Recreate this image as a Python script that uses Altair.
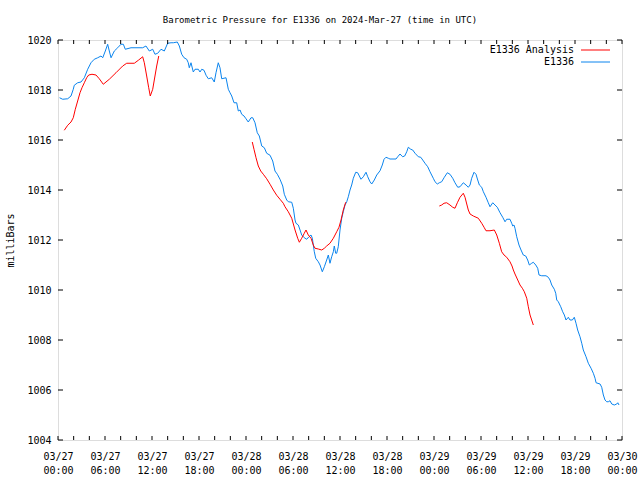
import altair as alt
import pandas as pd

FONT = "DejaVu Sans Mono"
RED = "#ff0000"
BLUE = "#0a84ee"

# ---- Station E1336 observed pressure (hours after 2024-03-27 00:00 UTC, mbar)
blue_hours = [0.2, 0.6, 1.24, 1.66, 1.95, 2.08, 2.51, 2.94, 3.36, 3.79, 4.21, 4.63, 5.07, 5.49, 5.71,
              6.04, 6.34, 6.55, 6.77, 7.19, 7.62, 8.04, 8.34, 8.59, 9.32, 10.81, 11.23, 11.66, 12.09,
              12.38, 12.73, 13.15, 13.57, 14.0, 14.43, 14.72, 15.23, 15.49, 15.79, 16.09, 16.43, 16.63,
              16.76, 16.98, 17.27, 17.49, 17.91, 18.13, 18.35, 18.64, 18.9, 19.19, 19.62, 19.95, 20.17,
              20.46, 20.68, 20.9, 21.45, 21.74, 21.96, 22.18, 22.47, 22.81, 23.02, 23.24, 23.45, 23.75,
              24.0, 24.29, 24.64, 24.86, 25.15, 25.44, 25.7, 26.01, 26.34, 26.64, 27.07, 27.41, 27.7,
              28.0, 28.34, 28.69, 28.89, 29.2, 29.4, 29.84, 30.04, 30.26, 30.38, 30.68, 30.9, 31.11,
              31.32, 31.53, 31.75, 32.04, 32.3, 32.47, 32.59, 32.72, 32.9, 33.23, 33.45, 33.74, 34.0,
              34.3, 34.51, 34.72, 34.94, 35.15, 35.27, 35.45, 35.58, 35.78, 36.0, 36.22, 36.42, 36.64,
              36.86, 37.06, 37.28, 37.49, 37.7, 38.01, 38.26, 38.47, 38.68, 38.98, 39.32, 39.54, 39.83,
              40.05, 40.38, 40.69, 41.11, 41.4, 41.62, 41.87, 42.17, 42.38, 43.15, 43.37, 43.66, 44.0,
              44.26, 44.52, 44.72, 45.03, 45.28, 45.58, 46.0, 46.31, 46.56, 46.85, 47.2, 47.49, 47.7,
              47.91, 48.13, 48.42, 48.68, 48.98, 49.32, 49.7, 50.04, 50.39, 50.68, 51.03, 51.32, 51.74,
              52.09, 52.38, 52.6, 52.81, 53.11, 53.36, 53.58, 53.79, 54.09, 54.3, 54.64, 54.93, 55.15,
              55.5, 55.79, 56.08, 56.43, 56.77, 57.07, 57.28, 57.7, 57.92, 58.05, 58.21, 58.34, 58.56,
              58.85, 59.11, 59.4, 59.71, 59.96, 60.17, 60.47, 60.68, 60.99, 61.24, 61.41, 61.75, 62.3,
              62.59, 62.81, 63.03, 63.36, 63.54, 63.67, 63.87, 64.18, 64.43, 64.64, 64.85, 65.15, 65.36,
              65.66, 65.91, 66.13, 66.34, 66.64, 66.86, 67.06, 67.41, 67.7, 68.05, 68.34, 68.56, 68.69,
              69.2, 69.41, 69.62, 69.83, 70.05, 70.25, 70.47, 70.69, 71.02, 71.33, 71.46, 71.62]
blue_mb = [1017.69, 1017.63, 1017.65, 1017.76, 1018.03, 1018.19, 1018.29, 1018.32, 1018.49, 1018.83,
           1019.09, 1019.23, 1019.29, 1019.36, 1019.29, 1019.56, 1019.83, 1019.56, 1019.29, 1019.56,
           1019.69, 1019.83, 1019.83, 1019.63, 1019.69, 1019.69, 1019.76, 1019.56, 1019.63, 1019.43,
           1019.47, 1019.63, 1019.56, 1019.87, 1019.89, 1019.89, 1019.92, 1019.76, 1019.43, 1019.29,
           1019.23, 1019.09, 1018.89, 1019.09, 1018.72, 1018.83, 1018.83, 1018.72, 1018.83, 1018.79,
           1018.59, 1018.45, 1018.49, 1018.32, 1018.69, 1019.09, 1018.89, 1018.45, 1018.49, 1018.03,
           1017.89, 1017.76, 1017.49, 1017.49, 1017.16, 1017.2, 1017.03, 1016.96, 1016.85, 1016.72,
           1016.89, 1016.89, 1016.69, 1016.29, 1016.16, 1015.76, 1015.69, 1015.47, 1015.39, 1015.16,
           1014.76, 1014.63, 1014.43, 1014.16, 1013.83, 1013.6, 1013.53, 1013.51, 1013.27, 1012.8,
           1012.67, 1012.6, 1012.4, 1012.2, 1012.13, 1012.07, 1012.03, 1012.13, 1012.2, 1012.07,
           1011.8, 1011.53, 1011.27, 1011.13, 1011.0, 1010.73, 1010.93, 1011.2, 1011.4, 1011.07,
           1011.33, 1011.53, 1011.76, 1011.47, 1011.47, 1011.73, 1012.4, 1012.87, 1013.13, 1013.4,
           1013.53, 1013.73, 1014.0, 1014.2, 1014.47, 1014.71, 1014.69, 1014.56, 1014.43, 1014.53,
           1014.71, 1014.53, 1014.33, 1014.24, 1014.4, 1014.6, 1014.77, 1015.0, 1015.23, 1015.31,
           1015.27, 1015.24, 1015.24, 1015.33, 1015.44, 1015.33, 1015.36, 1015.53, 1015.71, 1015.63,
           1015.6, 1015.47, 1015.33, 1015.31, 1015.2, 1015.07, 1014.93, 1014.73, 1014.6, 1014.47,
           1014.33, 1014.24, 1014.29, 1014.33, 1014.51, 1014.69, 1014.63, 1014.47, 1014.29, 1014.11,
           1014.13, 1014.29, 1014.2, 1014.11, 1014.2, 1014.47, 1014.71, 1014.63, 1014.4, 1014.2,
           1014.11, 1013.93, 1013.71, 1013.49, 1013.33, 1013.49, 1013.4, 1013.31, 1013.09, 1012.91,
           1012.73, 1012.83, 1012.83, 1012.67, 1012.56, 1012.6, 1012.47, 1012.13, 1011.8, 1011.6,
           1011.4, 1011.36, 1011.2, 1011.0, 1011.07, 1011.11, 1011.0, 1010.87, 1010.6, 1010.57,
           1010.57, 1010.51, 1010.4, 1010.2, 1010.03, 1009.87, 1009.6, 1009.53, 1009.33, 1009.13,
           1009.0, 1008.8, 1008.91, 1008.8, 1008.8, 1008.91, 1008.67, 1008.4, 1008.13, 1007.87,
           1007.6, 1007.33, 1007.07, 1006.87, 1006.67, 1006.47, 1006.29, 1006.24, 1006.11, 1005.8,
           1005.6, 1005.53, 1005.53, 1005.57, 1005.44, 1005.4, 1005.44, 1005.49, 1005.4]

# ---- Analysis series, three separate runs
red1_hours = [0.8, 1.24, 1.66, 1.95, 2.21, 2.51, 2.81, 3.06, 3.36, 3.66, 3.92, 4.34, 4.85, 5.27, 5.78,
              6.55, 7.4, 8.26, 8.77, 9.74, 10.3, 10.81, 11.02, 11.32, 11.58, 11.78, 12.09, 12.38,
              12.6, 12.86]
red1_mb = [1016.39, 1016.59, 1016.72, 1016.89, 1017.23, 1017.56, 1017.89, 1018.09, 1018.29, 1018.49,
           1018.6, 1018.63, 1018.6, 1018.45, 1018.23, 1018.43, 1018.69, 1018.96, 1019.07, 1019.07,
           1019.2, 1019.33, 1019.09, 1018.56, 1018.09, 1017.76, 1018.03, 1018.56, 1018.96, 1019.36]
red2_hours = [24.8, 25.02, 25.28, 25.57, 25.88, 26.21, 26.64, 27.07, 27.49, 27.92, 28.34, 28.76, 28.98,
              29.4, 29.84, 30.26, 30.6, 30.81, 31.11, 31.44, 31.66, 31.95, 32.3, 32.59, 32.81, 33.23,
              33.67, 34.0, 34.3, 34.72, 35.15, 35.58, 35.87, 36.13, 36.42, 36.73]
red2_mb = [1015.92, 1015.63, 1015.29, 1014.96, 1014.76, 1014.63, 1014.45, 1014.23, 1014.0, 1013.79,
           1013.63, 1013.47, 1013.33, 1013.13, 1012.87, 1012.4, 1012.07, 1011.91, 1012.07, 1012.27,
           1012.4, 1012.2, 1012.07, 1011.8, 1011.67, 1011.64, 1011.6, 1011.67, 1011.76, 1011.87,
           1012.07, 1012.33, 1012.51, 1012.8, 1013.2, 1013.51]
red3_hours = [48.68, 48.98, 49.28, 49.62, 50.04, 50.39, 50.68, 50.98, 51.32, 51.74, 51.96, 52.18, 52.38,
              52.6, 53.02, 53.66, 54.09, 54.39, 54.64, 55.15, 55.7, 56.01, 56.34, 56.64, 56.94, 57.28,
              57.7, 57.96, 58.13, 58.34, 58.69, 58.98, 59.28, 59.53, 59.84, 60.04, 60.26, 60.47, 60.68]
red3_mb = [1013.36, 1013.4, 1013.47, 1013.49, 1013.4, 1013.31, 1013.27, 1013.49, 1013.71, 1013.87,
           1013.71, 1013.44, 1013.2, 1013.04, 1012.96, 1012.87, 1012.67, 1012.51, 1012.37, 1012.37,
           1012.4, 1012.2, 1011.87, 1011.53, 1011.4, 1011.31, 1011.13, 1010.96, 1010.8, 1010.64,
           1010.4, 1010.2, 1010.07, 1009.93, 1009.67, 1009.33, 1009.0, 1008.8, 1008.6]

series_names = ["E1336 Analysis", "E1336"]
x_tick_hours = list(range(0, 73, 2))
x_label_hours = list(range(0, 73, 6))
y_ticks = list(range(1004, 1021, 2))
y_domain = [1004, 1020]

BASE = pd.Timestamp("2024-03-27T00:00:00Z")


def to_ms(hours):
    return [int((BASE + pd.Timedelta(hours=h)).value // 10**6) for h in hours]


blue_df = pd.DataFrame({"time": to_ms(blue_hours), "mb": blue_mb})
red_df = pd.concat([
    pd.DataFrame({"time": to_ms(h), "mb": v, "seg": i})
    for i, (h, v) in enumerate([(red1_hours, red1_mb), (red2_hours, red2_mb), (red3_hours, red3_mb)])
])
xt_df = pd.DataFrame({"time": to_ms(x_tick_hours)})
yt_df = pd.DataFrame({"mb": y_ticks})

x_scale = alt.Scale(type="utc", domain=to_ms([0, 72]), nice=False)
y_scale = alt.Scale(domain=y_domain, nice=False, zero=False)

x_axis = alt.Axis(values=to_ms(x_label_hours),
                  labelExpr="[utcFormat(datum.value, '%m/%d'), utcFormat(datum.value, '%H:%M')]",
                  ticks=False, domain=False, grid=False, title=None,
                  labelFont=FONT, labelFontSize=10, labelColor="black",
                  labelPadding=11, labelLineHeight=14, labelFlush=False, labelOverlap=False,
                  labelBaseline="top")
y_axis = alt.Axis(values=y_ticks, format="d", ticks=False, domain=False, grid=False,
                  title="milliBars", titleFont=FONT, titleFontSize=10, titleFontWeight="normal",
                  titleColor="black", titleAngle=270, titleX=-48, titleY=200,
                  titleAlign="center", titleBaseline="middle",
                  labelFont=FONT, labelFontSize=10, labelColor="black", labelPadding=7,
                  labelFlush=False, labelOverlap=False)

X = alt.X("time:T", scale=x_scale, axis=x_axis)
Y = alt.Y("mb:Q", scale=y_scale, axis=y_axis)

blue_line = alt.Chart(blue_df).mark_line(color=BLUE, strokeWidth=1, interpolate="linear").encode(
    x=X, y=Y)
red_line = alt.Chart(red_df).mark_line(color=RED, strokeWidth=1).encode(
    x=X, y=Y, detail="seg:N")

tick_len = 4
bottom_ticks = alt.Chart(xt_df).mark_rule(color="black", strokeWidth=1).encode(
    x=X, y=alt.value(400), y2=alt.value(400 - tick_len))
top_ticks = alt.Chart(xt_df).mark_rule(color="black", strokeWidth=1).encode(
    x=X, y=alt.value(0), y2=alt.value(tick_len))
left_ticks = alt.Chart(yt_df).mark_rule(color="black", strokeWidth=1).encode(
    y=Y, x=alt.value(0), x2=alt.value(tick_len + 1))
right_ticks = alt.Chart(yt_df).mark_rule(color="black", strokeWidth=1).encode(
    y=Y, x=alt.value(564), x2=alt.value(564 - tick_len - 1))

leg_text = []
leg_rules = []
for i, (name, col) in enumerate(zip(series_names, [RED, BLUE])):
    ypos = 10 + 12 * i
    leg_text.append(alt.Chart(pd.DataFrame({"name": [name]})).mark_text(
        align="right", baseline="middle", font=FONT, fontSize=10, color="black").encode(
        text="name:N", x=alt.value(516), y=alt.value(ypos)))
    leg_rules.append(alt.Chart(pd.DataFrame({"name": [name]})).mark_rule(
        color=col, strokeWidth=1).encode(x=alt.value(523), x2=alt.value(552), y=alt.value(ypos)))

chart = alt.layer(
    blue_line, red_line, bottom_ticks, top_ticks, left_ticks, right_ticks, *leg_text, *leg_rules
).properties(
    width=564, height=400,
    autosize=alt.AutoSizeParams(type="none"),
    padding={"left": 58, "top": 40, "right": 18, "bottom": 40},
    title=alt.TitleParams("Barometric Pressure for E1336 on 2024-Mar-27 (time in UTC)",
                          font=FONT, fontSize=9, fontWeight="normal", color="black",
                          anchor="middle", dx=-20, offset=10),
).configure_view(stroke="black", strokeWidth=1).configure(background="white")

chart.save("out.html", embed_options={"renderer": "svg", "actions": False})
